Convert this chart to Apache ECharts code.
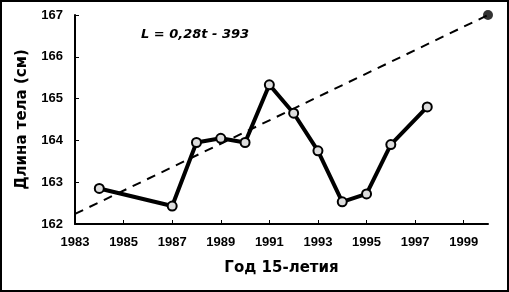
<!DOCTYPE html>
<html><head><meta charset="utf-8">
<script src="https://cdn.jsdelivr.net/npm/echarts@6/dist/echarts.min.js"></script>
<style>html,body{margin:0;padding:0;background:#fff}#c{width:509px;height:292px}</style>
</head><body><div id="c"></div>
<script>
const years = [1984, 1987, 1988, 1989, 1990, 1991, 1992, 1993, 1994, 1995, 1996, 1997.5];
const heights = [162.85, 162.43, 163.95, 164.05, 163.95, 165.33, 164.65, 163.75, 162.53, 162.72, 163.9, 164.8];
const trendYears = [1983, 2000];
const trendValues = [162.24, 167];
const forecastYear = [2000];
const forecastValue = [167];
const xTicks = [1983, 1985, 1987, 1989, 1991, 1993, 1995, 1997, 1999];
const yTicks = [162, 163, 164, 165, 166, 167];
const equation = 'L = 0,28t - 393';
const xName = 'Год 15-летия';
const yName = 'Длина тела (см)';

const font = 'Liberation Sans, Arial, sans-serif';
const dv = 'DejaVu Sans, sans-serif';
const chart = echarts.init(document.getElementById('c'), null, {renderer: 'canvas'});
chart.setOption({
  animation: false,
  backgroundColor: '#fff',
  grid: {left: 75, right: 21, top: 15, bottom: 68},
  xAxis: {
    type: 'value', min: 1983, max: 2000,
    name: xName, nameLocation: 'middle', nameGap: 37,
    nameTextStyle: {color: '#000', fontFamily: dv, fontWeight: 'bold', fontSize: 15},
    axisLine: {lineStyle: {color: '#000', width: 2}},
    axisTick: {inside: true, length: 4, lineStyle: {color: '#000'}, customValues: xTicks},
    axisLabel: {color: '#000', fontFamily: font, fontWeight: 'bold', fontSize: 13, margin: 12, customValues: xTicks, formatter: v => String(v)},
    splitLine: {show: false}
  },
  yAxis: {
    type: 'value', min: 162, max: 167, interval: 1,
    name: yName, nameLocation: 'middle', nameGap: 45, nameRotate: 90,
    nameTextStyle: {color: '#000', fontFamily: dv, fontWeight: 'bold', fontSize: 15},
    axisLine: {show: true, lineStyle: {color: '#000', width: 2}},
    axisTick: {show: true, inside: true, length: 4, lineStyle: {color: '#000'}},
    axisLabel: {color: '#000', fontFamily: font, fontWeight: 'bold', fontSize: 13, margin: 12, customValues: yTicks},
    splitLine: {show: false}
  },
  series: [
    {
      type: 'line', data: trendYears.map((y, i) => [y, trendValues[i]]),
      symbol: 'none', lineStyle: {color: '#000', width: 2, type: [9, 7]}, z: 1
    },
    {
      type: 'line', data: years.map((y, i) => [y, heights[i]]),
      symbol: 'circle', symbolSize: 9,
      itemStyle: {color: '#ddd', borderColor: '#000', borderWidth: 2},
      lineStyle: {color: '#000', width: 4}, z: 3
    },
    {
      type: 'scatter', data: forecastYear.map((y, i) => [y, forecastValue[i]]),
      symbol: 'circle', symbolSize: 10, itemStyle: {color: '#000'}, z: 4
    }
  ],
  graphic: [
    {type: 'text', left: 141, top: 28, style: {text: equation, fill: '#000', font: 'italic bold 13px DejaVu Sans, sans-serif'}},
    {type: 'rect', shape: {x: 1, y: 1, width: 507, height: 290}, style: {fill: 'none', stroke: '#000', lineWidth: 2}, z: 100}
  ]
});
</script></body></html>
